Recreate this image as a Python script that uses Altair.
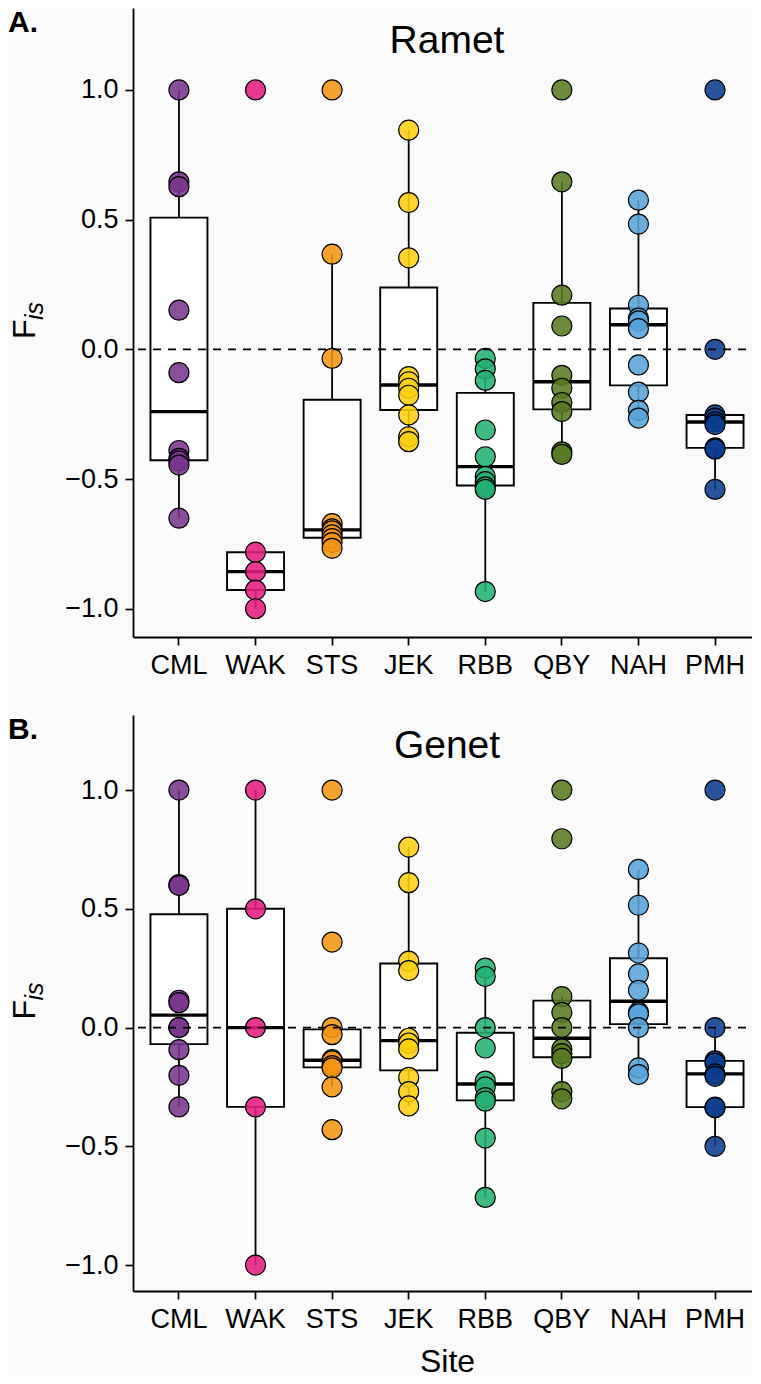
import altair as alt
import pandas as pd

SITES = ["CML", "WAK", "STS", "JEK", "RBB", "QBY", "NAH", "PMH"]
COLORS = ["#7b348f", "#e51b80", "#f49412", "#fdcf10", "#23b172", "#567b20", "#56a4dc", "#0a3c90"]
Y_TICKS = [-1.0, -0.5, 0.0, 0.5, 1.0]
Y_DOMAIN = [-1.109, 1.316]

# Ramet Fis per site
RAMET_CML = [1.0, 0.646, 0.627, 0.151, -0.090, -0.39, -0.42, -0.43, -0.446, -0.651]
RAMET_WAK = [1.0, -0.782, -0.857, -0.928, -1.0]
RAMET_STS = [1.0, 0.367, -0.035, -0.672, -0.692, -0.70, -0.715, -0.73, -0.745, -0.767]
RAMET_JEK = [0.845, 0.566, 0.353, -0.105, -0.125, -0.150, -0.177, -0.253, -0.337, -0.356]
RAMET_RBB = [-0.035, -0.075, -0.12, -0.311, -0.414, -0.49, -0.51, -0.53, -0.54, -0.934]
RAMET_QBY = [1.0, 0.646, 0.209, 0.09, -0.10, -0.15, -0.205, -0.24, -0.395, -0.405]
RAMET_NAH = [0.575, 0.483, 0.17, 0.12, 0.11, 0.08, -0.06, -0.165, -0.235, -0.265]
RAMET_PMH = [1.0, 0.0, -0.253, -0.265, -0.28, -0.29, -0.38, -0.385, -0.54]

# Genet Fis per site
GENET_CML = [1.0, 0.602, 0.598, 0.115, 0.105, 0.0, 0.0, -0.093, -0.201, -0.334]
GENET_WAK = [1.0, 0.5, 0.0, -0.334, -1.0]
GENET_STS = [1.0, 0.36, 0.0, -0.03, -0.135, -0.14, -0.16, -0.17, -0.25, -0.43]
GENET_JEK = [0.76, 0.61, 0.28, 0.24, -0.045, -0.065, -0.09, -0.21, -0.27, -0.33]
GENET_RBB = [0.25, 0.215, 0.0, -0.086, -0.225, -0.25, -0.295, -0.31, -0.465, -0.715]
GENET_QBY = [1.0, 0.795, 0.13, 0.064, 0.0, -0.09, -0.11, -0.13, -0.27, -0.30]
GENET_NAH = [0.666, 0.515, 0.314, 0.226, 0.157, 0.065, 0.058, 0.0, -0.17, -0.198]
GENET_PMH = [1.0, 0.0, -0.14, -0.15, -0.195, -0.205, -0.335, -0.337, -0.5]

RAMET = [RAMET_CML, RAMET_WAK, RAMET_STS, RAMET_JEK, RAMET_RBB, RAMET_QBY, RAMET_NAH, RAMET_PMH]
GENET = [GENET_CML, GENET_WAK, GENET_STS, GENET_JEK, GENET_RBB, GENET_QBY, GENET_NAH, GENET_PMH]


def to_df(groups):
    rows = []
    for site, vals in zip(SITES, groups):
        for v in vals:
            rows.append({"site": site, "fis": v})
    return pd.DataFrame(rows)


FONT = "Liberation Sans"
W = 628
HA = 629
HB = 576


def panel(df, h, title, letter, show_xtitle, title_y):
    xaxis_kw = dict(
        labelAngle=0, labelFontSize=27, labelFont=FONT, labelColor="black",
        tickColor="black", tickSize=8, tickWidth=1.7, domainColor="black",
        domainWidth=1.8, labelPadding=7,
    )
    if show_xtitle:
        xaxis = alt.Axis(title="Site", titleFontSize=32, titleFont=FONT,
                         titleFontWeight="normal", titleColor="black",
                         titlePadding=14, **xaxis_kw)
    else:
        xaxis = alt.Axis(title=None, **xaxis_kw)
    x = alt.X("site:N", sort=SITES,
              scale=alt.Scale(domain=SITES, paddingInner=0, paddingOuter=0.1),
              axis=xaxis)
    y = alt.Y("fis:Q", scale=alt.Scale(domain=Y_DOMAIN, nice=False, zero=False),
              axis=alt.Axis(values=Y_TICKS, format=".1f", title=None, grid=False,
                            labelFontSize=27, labelFont=FONT, labelColor="black",
                            tickColor="black", tickSize=8, tickWidth=1.7,
                            domainColor="black", domainWidth=1.8, labelPadding=7))

    box = alt.Chart(df).mark_boxplot(
        size=57, extent=1.5, outliers=False,
        box=alt.MarkConfig(fill="white", stroke="black", strokeWidth=1.9, opacity=1),
        median=alt.TickConfig(color="black", thickness=3.4, opacity=1),
        rule=alt.MarkConfig(color="black", strokeWidth=1.8, opacity=1),
    ).encode(x=x, y=y)

    pts = alt.Chart(df).mark_circle(
        size=400, stroke="black", strokeWidth=1.2, fillOpacity=0.88, opacity=1
    ).encode(
        x=x, y=y,
        color=alt.Color("site:N", scale=alt.Scale(domain=SITES, range=COLORS), legend=None),
    )

    zero = alt.Chart(pd.DataFrame({"z": [0.0]})).mark_rule(
        color="black", strokeWidth=1.6, strokeDash=[8, 7]
    ).encode(y="z:Q")

    ttl = alt.Chart(pd.DataFrame({"t": [title]})).mark_text(
        align="center", baseline="alphabetic", font=FONT, fontSize=39, color="black"
    ).encode(text="t:N", x=alt.value(W / 2), y=alt.value(title_y))

    let = alt.Chart(pd.DataFrame({"t": [letter]})).mark_text(
        align="left", baseline="top", font=FONT, fontSize=30, fontWeight="bold", color="black"
    ).encode(text="t:N", x=alt.value(-125), y=alt.value(0))

    fmain = alt.Chart(pd.DataFrame({"t": ["F"]})).mark_text(
        align="left", baseline="alphabetic", font=FONT, fontSize=32, angle=270, color="black"
    ).encode(text="t:N", x=alt.value(-98), y=alt.value(h / 2 + 16.5))

    fsub = alt.Chart(pd.DataFrame({"t": ["is"]})).mark_text(
        align="left", baseline="alphabetic", font=FONT, fontSize=25, fontStyle="italic",
        angle=270, color="black"
    ).encode(text="t:N", x=alt.value(-90), y=alt.value(h / 2 - 2.5))

    return alt.layer(box, pts, zero, ttl, let, fmain, fsub).properties(width=W, height=h)


panel_a = panel(to_df(RAMET), HA, "Ramet", "A.", False, 45)
panel_b = panel(to_df(GENET), HB, "Genet", "B.", True, 43)

chart = alt.vconcat(panel_a, panel_b, spacing=37).properties(
    background="#fafafa",
    padding={"top": 0, "bottom": -2, "left": 0, "right": -10},
).configure_view(stroke=None).configure_axis(labelFont=FONT, titleFont=FONT)

chart.save("out.html", embed_options={"renderer": "svg", "actions": False})
